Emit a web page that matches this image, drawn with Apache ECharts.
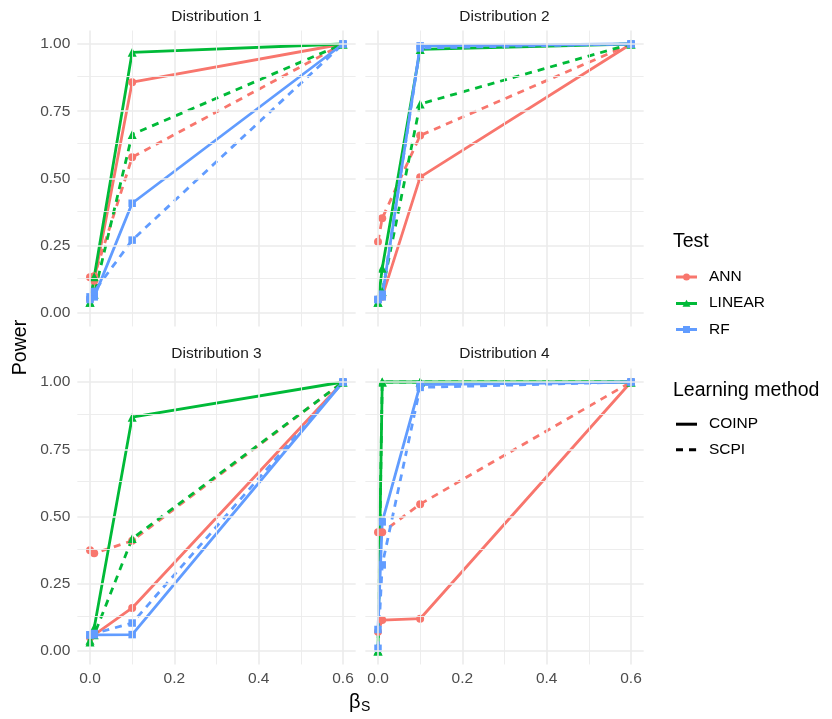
<!DOCTYPE html>
<html>
<head>
<meta charset="utf-8">
<script src="https://cdn.jsdelivr.net/npm/echarts@6/dist/echarts.min.js"></script>
<style>html,body{margin:0;padding:0;background:#fff}#c{width:832px;height:719px}</style>
</head>
<body>
<div id="c"></div>
<script>
// ---- data ----
const xValues = [0, 0.01, 0.1, 0.6];
const panelTitles = ['Distribution 1', 'Distribution 2', 'Distribution 3', 'Distribution 4'];
const tests = ['ANN', 'LINEAR', 'RF'];
const methods = ['COINP', 'SCPI'];
const xTickLabels = [0, 0.2, 0.4, 0.6];
const yTickLabels = [0, 0.25, 0.5, 0.75, 1];

// Distribution 1
const d1AnnCoinp    = [0.05, 0.12, 0.858, 1.0];
const d1AnnScpi     = [0.133, 0.137, 0.579, 1.0];
const d1LinearCoinp = [0.04, 0.135, 0.969, 1.0];
const d1LinearScpi  = [0.04, 0.07, 0.664, 1.0];
const d1RfCoinp     = [0.06, 0.06, 0.408, 1.0];
const d1RfScpi      = [0.05, 0.08, 0.271, 1.0];
// Distribution 2
const d2AnnCoinp    = [0.05, 0.06, 0.505, 1.0];
const d2AnnScpi     = [0.265, 0.352, 0.66, 1.0];
const d2LinearCoinp = [0.04, 0.166, 0.98, 1.0];
const d2LinearScpi  = [0.04, 0.08, 0.777, 1.0];
const d2RfCoinp     = [0.05, 0.06, 0.993, 1.0];
const d2RfScpi      = [0.05, 0.07, 0.985, 1.0];
// Distribution 3
const d3AnnCoinp    = [0.05, 0.06, 0.16, 1.0];
const d3AnnScpi     = [0.375, 0.363, 0.41, 1.0];
const d3LinearCoinp = [0.04, 0.086, 0.869, 1.0];
const d3LinearScpi  = [0.033, 0.06, 0.418, 1.0];
const d3RfCoinp     = [0.06, 0.06, 0.061, 1.0];
const d3RfScpi      = [0.06, 0.065, 0.104, 1.0];
// Distribution 4
const d4AnnCoinp    = [0.072, 0.115, 0.12, 1.0];
const d4AnnScpi     = [0.441, 0.441, 0.546, 1.0];
const d4LinearCoinp = [0.0, 1.0, 1.0, 1.0];
const d4LinearScpi  = [0.0, 1.0, 1.0, 1.0];
const d4RfCoinp     = [0.08, 0.48, 0.99, 1.0];
const d4RfScpi      = [0.01, 0.32, 0.98, 1.0];

const panelData = [
  {ANN: {COINP: d1AnnCoinp, SCPI: d1AnnScpi}, LINEAR: {COINP: d1LinearCoinp, SCPI: d1LinearScpi}, RF: {COINP: d1RfCoinp, SCPI: d1RfScpi}},
  {ANN: {COINP: d2AnnCoinp, SCPI: d2AnnScpi}, LINEAR: {COINP: d2LinearCoinp, SCPI: d2LinearScpi}, RF: {COINP: d2RfCoinp, SCPI: d2RfScpi}},
  {ANN: {COINP: d3AnnCoinp, SCPI: d3AnnScpi}, LINEAR: {COINP: d3LinearCoinp, SCPI: d3LinearScpi}, RF: {COINP: d3RfCoinp, SCPI: d3RfScpi}},
  {ANN: {COINP: d4AnnCoinp, SCPI: d4AnnScpi}, LINEAR: {COINP: d4LinearCoinp, SCPI: d4LinearScpi}, RF: {COINP: d4RfCoinp, SCPI: d4RfScpi}}
];

// ---- styles ----
const FONT = 'Liberation Sans, Arial, Helvetica, sans-serif';
const colors = {ANN: '#F8766D', LINEAR: '#00BA38', RF: '#619CFF'};
const symbols = {ANN: 'circle', LINEAR: 'triangle', RF: 'rect'};
const symSizes = {ANN: 8, LINEAR: 9, RF: 7.5};
const legendIcons = {
  ANN: 'path://M0,5 L21,5 L21,8 L0,8 Z M10.5,3 A3.5,3.5 0 1,1 10.5,10 A3.5,3.5 0 1,1 10.5,3 Z',
  LINEAR: 'path://M0,5.2 L21,5.2 L21,8.2 L0,8.2 Z M10.5,3 L14.5,10 L6.5,10 Z',
  RF: 'path://M0,5 L21,5 L21,8 L0,8 Z M7,3 L14,3 L14,10 L7,10 Z',
  COINP: 'path://M0,0 L21,0 L21,3 L0,3 Z',
  SCPI: 'path://M0,0 L7,0 L7,3 L0,3 Z M13,0 L20,0 L20,3 L13,3 Z M20.9,0 L21,0 L21,3 L20.9,3 Z'
};
const dash = [7, 6];
const LW = 2.8;

const panelW = 278.3, panelH = 295.9;
const grids = [
  {left: 77.35, top: 30.55, width: panelW, height: panelH},
  {left: 365.35, top: 30.55, width: panelW, height: panelH},
  {left: 77.35, top: 368.55, width: panelW, height: panelH},
  {left: 365.35, top: 368.55, width: panelW, height: panelH}
];

const xAxes = grids.map((g, i) => ({
  type: 'value', gridIndex: i, min: -0.03, max: 0.63,
  axisLine: {show: false}, axisTick: {show: false}, splitLine: {show: false},
  axisLabel: {show: i >= 2, customValues: xTickLabels, formatter: v => v.toFixed(1),
    color: '#4D4D4D', fontSize: 15.5, fontFamily: FONT, margin: 6}
}));
const yAxes = grids.map((g, i) => ({
  type: 'value', gridIndex: i, min: -0.05, max: 1.05,
  axisLine: {show: false}, axisTick: {show: false}, splitLine: {show: false},
  axisLabel: {show: i % 2 === 0, customValues: yTickLabels, formatter: v => v.toFixed(2),
    color: '#4D4D4D', fontSize: 15.5, fontFamily: FONT, margin: 7}
}));

const series = [];
// grid lines via markLine (major + minor)
const gridX = [0, 0.1, 0.2, 0.3, 0.4, 0.5, 0.6];
const gridY = [0, 0.125, 0.25, 0.375, 0.5, 0.625, 0.75, 0.875, 1];
grids.forEach((g, i) => {
  const ml = [];
  gridX.forEach((v, k) => ml.push({xAxis: v, lineStyle: {color: '#EBEBEB', width: k % 2 === 0 ? 1.6 : 0.9, type: 'solid'}}));
  gridY.forEach((v, k) => ml.push({yAxis: v, lineStyle: {color: '#EBEBEB', width: k % 2 === 0 ? 1.6 : 0.9, type: 'solid'}}));
  series.push({
    type: 'line', name: 'grid' + i, xAxisIndex: i, yAxisIndex: i, data: [], z: 1, silent: true,
    markLine: {silent: true, symbol: ['none', 'none'], label: {show: false}, animation: false, data: ml}
  });
});

panelData.forEach((pd, p) => {
  tests.forEach(t => {
    methods.forEach(m => {
      const vals = pd[t][m];
      const pts = xValues.map((x, k) => [x, vals[k]]);
      series.push({
        type: 'line', name: t, xAxisIndex: p, yAxisIndex: p, z: 3,
        data: pts, showSymbol: false, symbol: 'none',
        lineStyle: {color: colors[t], width: LW, type: m === 'SCPI' ? dash : 'solid'},
        itemStyle: {color: colors[t]},
        emphasis: {disabled: true}, animation: false
      });
      series.push({
        type: 'scatter', name: t, xAxisIndex: p, yAxisIndex: p, z: 4,
        data: pts, symbol: symbols[t], symbolSize: symSizes[t],
        itemStyle: {color: colors[t], opacity: 1, borderWidth: 0},
        emphasis: {disabled: true}, animation: false, silent: true
      });
    });
  });
});
// legend-only series for learning method
series.push({type: 'line', name: 'COINP', xAxisIndex: 0, yAxisIndex: 0, data: [], symbol: 'none',
  lineStyle: {color: '#000', width: LW, type: 'solid'}, itemStyle: {color: '#000'}});
series.push({type: 'line', name: 'SCPI', xAxisIndex: 0, yAxisIndex: 0, data: [], symbol: 'none',
  lineStyle: {color: '#000', width: LW, type: dash}, itemStyle: {color: '#000'}});

const centers = grids.map(g => g.left + g.width / 2);
const graphic = [];
panelTitles.forEach((t, i) => {
  graphic.push({type: 'text', x: centers[i], y: i < 2 ? 17 : 354, style: {text: t, fontSize: 15.5, fontFamily: FONT,
    fill: '#1A1A1A', textAlign: 'center', textVerticalAlign: 'middle'}});
});
graphic.push({type: 'text', x: 21, y: 347.5, rotation: Math.PI / 2, style: {text: 'Power', fontSize: 19.5,
  fontFamily: FONT, fill: '#000', textAlign: 'center', textVerticalAlign: 'middle'}});
graphic.push({type: 'text', x: 349, y: 702, style: {text: 'β', fontSize: 20, fontFamily: FONT, fill: '#000',
  textAlign: 'left', textVerticalAlign: 'middle'}});
graphic.push({type: 'text', x: 361, y: 707, style: {text: 'S', fontSize: 14, fontFamily: FONT, fill: '#000',
  textAlign: 'left', textVerticalAlign: 'middle'}});
graphic.push({type: 'text', x: 673, y: 242, style: {text: 'Test', fontSize: 19.5, fontFamily: FONT, fill: '#000',
  textAlign: 'left', textVerticalAlign: 'middle'}});
graphic.push({type: 'text', x: 673, y: 391, style: {text: 'Learning method', fontSize: 19.5, fontFamily: FONT, fill: '#000',
  textAlign: 'left', textVerticalAlign: 'middle'}});

const legendText = {fontSize: 15.5, fontFamily: FONT, color: '#000', padding: [0, 0, 0, 7]};
const option = {
  backgroundColor: '#fff',
  animation: false,
  grid: grids,
  xAxis: xAxes,
  yAxis: yAxes,
  series: series,
  graphic: graphic,
  legend: [
    {data: tests.map(t => ({name: t, icon: legendIcons[t], itemStyle: {color: colors[t]}})),
      orient: 'vertical', left: 676, top: 269, padding: 0, itemWidth: 21, itemHeight: 7, itemGap: 10.2,
      selectedMode: false, textStyle: legendText},
    {data: methods.map(m => ({name: m, icon: legendIcons[m], itemStyle: {color: '#000'}})),
      orient: 'vertical', left: 676, top: 416.2, padding: 0, itemWidth: 21, itemHeight: 3, itemGap: 9.6,
      selectedMode: false, textStyle: legendText}
  ]
};
const chart = echarts.init(document.getElementById('c'), null, {renderer: 'canvas'});
chart.setOption(option);
</script>
</body>
</html>
